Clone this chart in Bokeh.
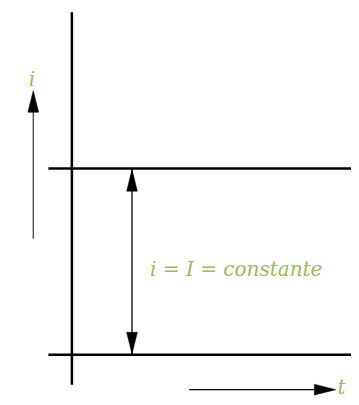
from bokeh.plotting import figure
from bokeh.models import Range1d
from bokeh.embed import file_html
from bokeh.resources import INLINE
from bokeh.core.properties import value

# ---- diagram data (reference units, y grows downward) ----
W, H = 351, 397          # figure size in the page
XSPAN, YSPAN = 359, 405  # diagram coordinate span
axis_x = [73, 73]
axis_y = [12, 392]
level_y = [171.5, 361.5]          # i = I : upper and lower level lines
level_x0, level_x1 = 49, 359
dim_x = 134.5                     # double arrow between the two levels
i_arrow = (33.5, 243, 92)         # x, y_start, y_tip
t_arrow = (397, 193, 343)         # y, x_start, x_tip
labels = ["i", "i = I = constante", "t"]
label_x = [29, 153, 353]
label_y = [80, 274, 394]
label_align = ["left", "left", "right"]

GREEN = "#9bbb59"
HEAD_L, HEAD_W = 22, 11

p = figure(width=W, height=H, output_backend="svg", toolbar_location=None,
           x_range=Range1d(0, XSPAN), y_range=Range1d(YSPAN, 0),
           min_border=0, outline_line_color=None)
p.axis.visible = False
p.grid.visible = False
p.background_fill_color = "white"

# vertical axis
p.line(axis_x, axis_y, line_color="black", line_width=2.5)
# level lines
p.segment(x0=[level_x0] * 2, y0=level_y, x1=[level_x1] * 2, y1=level_y,
          line_color="black", line_width=2.5)

# arrow shafts
p.segment(x0=[dim_x], y0=[level_y[0]], x1=[dim_x], y1=[level_y[1]],
          line_color="black", line_width=1.3)
p.segment(x0=[i_arrow[0]], y0=[i_arrow[1]], x1=[i_arrow[0]], y1=[i_arrow[2] + 5],
          line_color="#333333", line_width=1.2)
p.segment(x0=[t_arrow[1]], y0=[t_arrow[0]], x1=[t_arrow[2] - 5], y1=[t_arrow[0]],
          line_color="black", line_width=1.3)

# arrow heads (triangles built from arrow tips)
def vhead(x, tip, d):
    return [x, x - HEAD_W / 2, x + HEAD_W / 2], [tip, tip + d * HEAD_L, tip + d * HEAD_L]

def hhead(y, tip, d):
    return [tip, tip + d * HEAD_L, tip + d * HEAD_L], [y, y - HEAD_W / 2, y + HEAD_W / 2]

heads = [vhead(dim_x, level_y[0] + 1, 1), vhead(dim_x, level_y[1] - 1, -1),
         vhead(i_arrow[0], i_arrow[2], 1), hhead(t_arrow[0], t_arrow[2], -1)]
p.patches([h[0] for h in heads], [h[1] for h in heads],
          fill_color="black", line_color="black", line_width=0.5)

# labels
p.text(x=label_x, y=label_y, text=labels, text_color=GREEN,
       text_font=value("DejaVu Serif"), text_font_style="italic",
       text_font_size="20px", text_baseline="alphabetic", text_align=label_align)

open("out.html", "w").write(file_html(p, INLINE))
